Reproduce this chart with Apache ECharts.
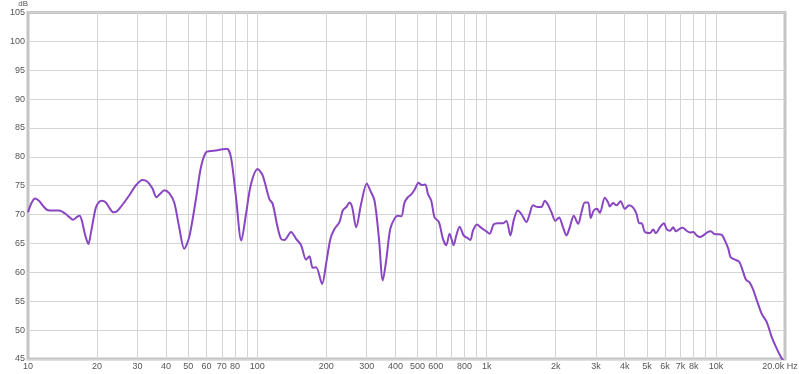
<!DOCTYPE html>
<html>
<head>
<meta charset="utf-8">
<script src="https://cdn.jsdelivr.net/npm/echarts@6/dist/echarts.min.js"></script>
<style>
html,body{margin:0;padding:0;background:#fff;}
#c{width:799px;height:374px;}
</style>
</head>
<body>
<div id="c"></div>
<script>
const freqHz = [10.0,10.3,10.73,11.17,11.63,12.14,12.86,13.66,14.61,15.1,15.72,16.37,16.79,17.21,17.74,18.34,18.84,19.75,20.42,20.98,21.84,22.69,23.58,24.47,25.48,27.61,29.33,31.56,33.19,34.9,36.34,37.71,39.26,41.28,43.41,45.64,47.99,50.47,53.99,56.77,59.7,62.34,66.01,70.54,73.73,76.77,80.72,85.14,89.27,93.87,100.3,105.5,112.8,116.6,122.6,126.9,131.2,140.4,147.6,155.2,163.2,168.7,174.4,180.4,191.7,199.5,208.4,216.9,228.1,235.8,245.5,252.2,259.1,269.8,283.7,300.2,310.6,324.4,338.7,352.6,364.8,379.8,396.6,410.0,424.2,438.5,453.3,469.1,484.9,504.8,521.8,540.0,554.3,573.5,593.0,619.2,644.7,666.8,689.3,717.7,737.4,762.3,793.6,820.4,848.8,871.4,907.0,948.2,997,1031,1073,1120,1178,1219,1269,1312,1366,1417,1491,1540,1593,1675,1734,1792,1852,1917,1995,2069,2141,2229,2304,2399,2505,2592,2679,2770,2845,2932,3031,3114,3276,3386,3444,3560,3684,3835,4005,4182,4354,4505,4625,4737,4898,5150,5322,5470,5695,5929,6092,6298,6510,6689,6915,7155,7447,7700,7961,8237,8514,8802,9162,9482,9900,10233,10590,10946,11315,11592,12106,12640,13080,13520,13980,14470,15060,15840,16650,17510,18410,19360,20000];
const levelDb = [70.4,71.8,72.8,72.4,71.5,70.8,70.7,70.7,70.1,69.6,69.1,69.6,69.8,68.8,66.5,64.9,67.0,71.2,72.2,72.4,72.1,71.1,70.4,70.6,71.4,73.3,74.9,76.0,75.7,74.5,73.0,73.6,74.2,73.7,72.1,67.8,64.1,66.1,72.7,78.2,80.8,81.0,81.1,81.3,81.4,79.9,73.0,65.5,70.1,75.3,77.9,76.8,72.7,71.9,67.8,65.8,65.6,67.0,65.8,64.7,62.2,62.8,60.8,60.9,58.0,61.5,65.8,67.5,68.7,70.7,71.4,72.1,71.3,67.8,71.9,75.4,74.2,72.4,66.1,58.6,62.1,67.5,69.3,69.8,69.7,72.1,73.0,73.5,74.3,75.5,75.1,75.2,73.6,72.4,69.5,68.7,65.8,64.7,66.7,64.7,66.4,67.9,66.4,66.0,65.6,67.2,68.3,67.7,67.1,66.7,68.3,68.5,68.5,68.9,66.4,69.0,70.7,70.1,68.7,70.1,71.6,71.3,71.3,72.4,71.7,70.4,68.9,69.5,68.1,66.4,67.8,69.8,68.4,70.4,72.1,72.1,69.4,70.7,71.0,70.3,72.9,72.1,71.4,72.0,71.6,72.3,71.0,71.6,71.2,70.1,68.5,68.5,67.0,66.8,67.4,66.8,67.8,68.5,67.5,67.2,67.8,67.1,67.5,67.7,67.2,66.9,67.0,66.4,66.1,66.4,66.9,67.1,66.6,66.6,66.5,65.5,64.1,62.6,62.2,61.8,60.3,58.7,58.3,57.2,55.2,52.8,51.4,48.8,46.8,45.1,44.5];

const gridFreqs = [20,30,40,50,60,70,80,90,100,200,300,400,500,600,700,800,900,1000,2000,3000,4000,5000,6000,7000,8000,9000,10000];
const tickFreqs = [10,20,30,40,50,60,70,80,100,200,300,400,500,600,800,1000,2000,3000,4000,5000,6000,7000,8000,10000,20000];
const tickLabels = ['10','20','30','40','50','60','70','80','100','200','300','400','500','600','800','1k','2k','3k','4k','5k','6k','7k','8k','10k','20.0k Hz'];

const chart = echarts.init(document.getElementById('c'), null, {renderer:'canvas'});
const labelStyle = {fontFamily:'Liberation Sans', fontSize:9, color:'#555'};

const gridLineData = gridFreqs.map(f => ({xAxis:f, label:{show:false}}));
const tickLabelData = tickFreqs.map((f,i) => ({
  xAxis:f,
  lineStyle:{color:'rgba(255,255,255,0)', width:0},
  label:Object.assign({show:true, position:'start', distance:3, formatter:tickLabels[i]}, labelStyle,
    i === tickFreqs.length - 1 ? {padding:[0,10,0,0]} : {})
}));

chart.setOption({
  animation:false,
  backgroundColor:'#ffffff',
  grid:{left:28, right:14, top:11, bottom:15, show:true, borderColor:'#c4c4c4', borderWidth:3, backgroundColor:'#ffffff'},
  xAxis:{type:'log', logBase:10, min:10, max:20000,
    axisLine:{show:false}, axisTick:{show:false}, axisLabel:{show:false}, splitLine:{show:false}},
  yAxis:{type:'value', min:45, max:105, interval:5,
    name:'dB', nameLocation:'end', nameGap:1,
    nameTextStyle:{fontFamily:'Liberation Sans', fontSize:8, color:'#555', align:'right', padding:[0,0,0,0]},
    axisLine:{show:false}, axisTick:{show:false},
    axisLabel:{margin:3, ...labelStyle},
    splitLine:{lineStyle:{color:'#d4d4d4', width:1}}},
  series:[{
    type:'line',
    data:freqHz.map((f,i)=>[f, levelDb[i]]),
    showSymbol:false,
    smooth:0.3,
    lineStyle:{color:'#8a46c2', width:2},
    z:5,
    markLine:{
      silent:true, symbol:'none', animation:false,
      lineStyle:{color:'#d4d4d4', width:1, type:'solid'},
      label:{show:true},
      data: gridLineData.concat(tickLabelData)
    }
  }]
});
</script>
</body>
</html>
